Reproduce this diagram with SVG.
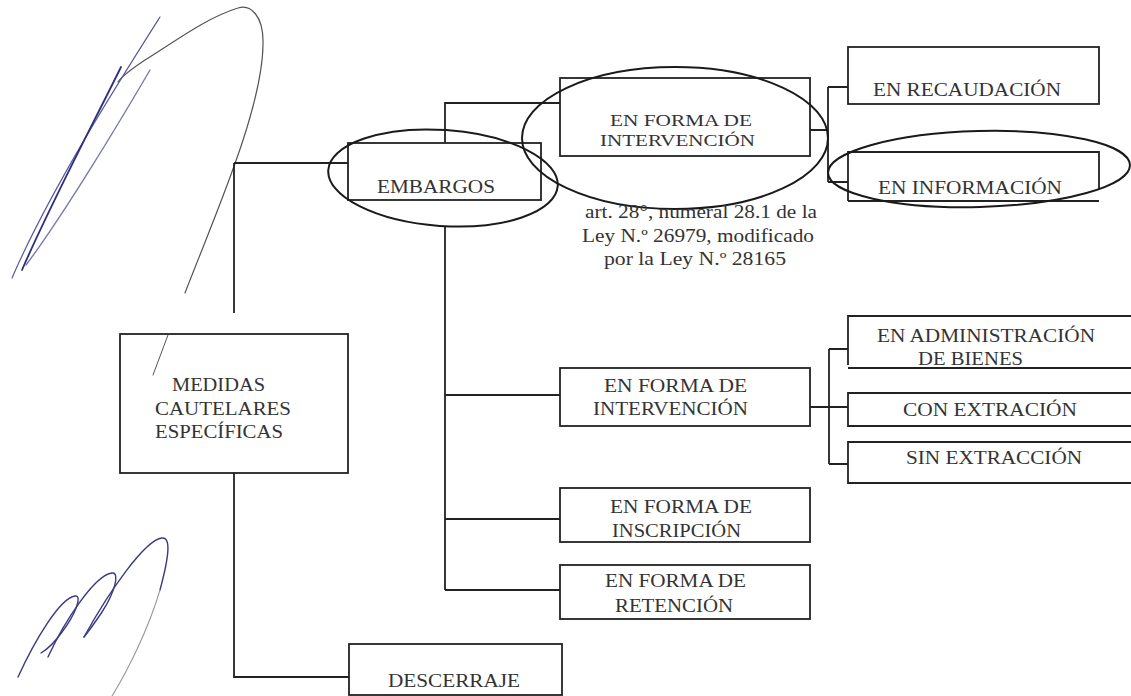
<svg xmlns="http://www.w3.org/2000/svg" width="1131" height="696" viewBox="0 0 1131 696">
<style>
  .box { fill: none; stroke: #222; stroke-width: 1.8; }
  .conn { fill: none; stroke: #222; stroke-width: 1.8; }
  .ell { fill: none; stroke: #1a1a1a; stroke-width: 2; }
  .t { font-family: 'Liberation Serif', 'Times New Roman', serif; font-size: 19.5px; fill: #333; }
  .ts { font-family: 'Liberation Serif', 'Times New Roman', serif; font-size: 18.5px; fill: #333; }
  .tt { font-family: 'Liberation Serif', 'Times New Roman', serif; font-size: 17px; fill: #333; }
  .sig { fill: none; stroke-linecap: round; }
</style>
<rect width="1131" height="696" fill="#ffffff"/>

<g id="signatures">
  <path class="sig" stroke="#555" stroke-width="1.2" d="M185,293 C215,215 262,110 263,45 C264,15 250,4 238,8 C205,18 170,45 145,60 C130,70 122,76 118,82"/>
  <path class="sig" stroke="#5a5a9a" stroke-width="1.2" d="M160,17 C120,80 50,190 12,278"/>
  <path class="sig" stroke="#2e2e80" stroke-width="1.8" d="M121,67 C95,120 50,205 22,270"/>
  <path class="sig" stroke="#7a7ab0" stroke-width="1.4" d="M150,70 C115,130 60,220 26,265"/>
  <path class="sig" stroke="#555" stroke-width="1" d="M168,335 L153,375"/>
  <path class="sig" stroke="#3a3a80" stroke-width="1.4" d="M84,637 C110,590 145,540 162,538 C172,537 168,560 160,590"/>
  <path class="sig" stroke="#999" stroke-width="1.1" d="M160,590 C148,630 128,670 112,696"/>
  <path class="sig" stroke="#3a3a80" stroke-width="1.4" d="M48,657 C65,620 95,575 112,573 C120,572 115,592 102,612 C94,624 88,632 84,637"/>
  <path class="sig" stroke="#3a3a80" stroke-width="1.4" d="M18,677 C35,640 60,598 75,596 C83,595 75,615 62,632 C55,642 46,650 41,653"/>
</g>

<g id="connectors">
  <path class="conn" d="M234,163 H348 M234,163 V313"/>
  <path class="conn" d="M234,473 V677 H349"/>
  <path class="conn" d="M445,143 V103 H560"/>
  <path class="conn" d="M445,226 V590 M445,395 H560 M445,519 H560 M445,590 H560"/>
  <path class="conn" d="M810,130 H828 M828,87 V182 M828,87 H848 M828,182 H848"/>
  <path class="conn" d="M810,407 H848 M829,349 V464 M829,349 H848 M829,464 H848"/>
</g>

<g id="medidas">
  <rect class="box" x="120" y="334" width="228" height="139"/>
  <text class="t" x="172" y="391" textLength="93" lengthAdjust="spacingAndGlyphs">MEDIDAS</text>
  <text class="t" x="155" y="415" textLength="136" lengthAdjust="spacingAndGlyphs">CAUTELARES</text>
  <text class="t" x="155" y="438" textLength="128" lengthAdjust="spacingAndGlyphs">ESPECÍFICAS</text>
</g>

<g id="embargos">
  <rect class="box" x="348" y="143" width="193" height="57"/>
  <text class="t" x="377" y="193" textLength="118" lengthAdjust="spacingAndGlyphs">EMBARGOS</text>
  <ellipse class="ell" cx="443" cy="178" rx="115" ry="48" transform="rotate(4 443 178)"/>
</g>

<g id="intervencion-top">
  <rect class="box" x="560" y="78" width="250" height="78"/>
  <text class="tt" x="610" y="126" textLength="142" lengthAdjust="spacingAndGlyphs">EN FORMA DE</text>
  <text class="tt" x="600" y="146" textLength="155" lengthAdjust="spacingAndGlyphs">INTERVENCIÓN</text>
  <ellipse class="ell" cx="675" cy="138" rx="153" ry="71"/>
</g>

<g id="nota-legal">
  <text class="ts" x="585" y="218" textLength="232" lengthAdjust="spacingAndGlyphs">art. 28°, numeral 28.1 de la</text>
  <text class="ts" x="582" y="242" textLength="232" lengthAdjust="spacingAndGlyphs">Ley N.º 26979, modificado</text>
  <text class="ts" x="604" y="265" textLength="182" lengthAdjust="spacingAndGlyphs">por la Ley N.º 28165</text>
</g>

<g id="recaudacion">
  <rect class="box" x="848" y="47" width="251" height="57"/>
  <text class="t" x="873" y="96" textLength="188" lengthAdjust="spacingAndGlyphs">EN RECAUDACIÓN</text>
</g>

<g id="informacion">
  <path class="box" d="M848,201 V152 H1099 V190 M848,201 H1099"/>
  <text class="t" x="878" y="194" textLength="184" lengthAdjust="spacingAndGlyphs">EN INFORMACIÓN</text>
  <ellipse class="ell" cx="979" cy="169" rx="151" ry="38" transform="rotate(-1.5 979 169)"/>
</g>

<g id="intervencion-mid">
  <rect class="box" x="560" y="368" width="250" height="58"/>
  <text class="t" x="604" y="392" textLength="143" lengthAdjust="spacingAndGlyphs">EN FORMA DE</text>
  <text class="t" x="593" y="415" textLength="155" lengthAdjust="spacingAndGlyphs">INTERVENCIÓN</text>
</g>

<g id="administracion">
  <path class="box" d="M1133,316 H848 V365 M848,368 H1133"/>
  <text class="t" x="877" y="342" textLength="218" lengthAdjust="spacingAndGlyphs">EN ADMINISTRACIÓN</text>
  <text class="t" x="918" y="365" textLength="105" lengthAdjust="spacingAndGlyphs">DE BIENES</text>
</g>

<g id="con-extraccion">
  <path class="box" d="M1133,393 H848 V426 H1133"/>
  <text class="t" x="903" y="416" textLength="174" lengthAdjust="spacingAndGlyphs">CON EXTRACIÓN</text>
</g>

<g id="sin-extraccion">
  <path class="box" d="M1133,442 H848 V483 H1133"/>
  <text class="t" x="906" y="464" textLength="176" lengthAdjust="spacingAndGlyphs">SIN EXTRACCIÓN</text>
</g>

<g id="inscripcion">
  <rect class="box" x="560" y="488" width="250" height="54"/>
  <text class="t" x="610" y="513" textLength="142" lengthAdjust="spacingAndGlyphs">EN FORMA DE</text>
  <text class="t" x="612" y="537" textLength="129" lengthAdjust="spacingAndGlyphs">INSCRIPCIÓN</text>
</g>

<g id="retencion">
  <rect class="box" x="560" y="565" width="250" height="54"/>
  <text class="t" x="605" y="587" textLength="141" lengthAdjust="spacingAndGlyphs">EN FORMA DE</text>
  <text class="t" x="615" y="612" textLength="118" lengthAdjust="spacingAndGlyphs">RETENCIÓN</text>
</g>

<g id="descerraje">
  <rect class="box" x="349" y="644" width="213" height="51"/>
  <text class="t" x="388" y="687" textLength="132" lengthAdjust="spacingAndGlyphs">DESCERRAJE</text>
</g>
</svg>
